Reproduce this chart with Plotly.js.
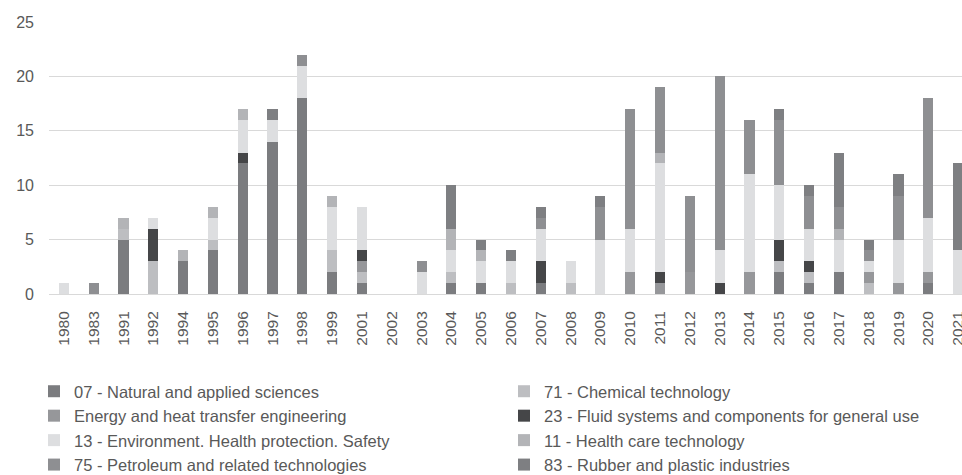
<!DOCTYPE html>
<html><head><meta charset="utf-8">
<script src="https://cdn.plot.ly/plotly-3.0.1.min.js"></script>
<style>html,body{margin:0;padding:0;overflow:hidden;background:#fff}#chart{width:974px;height:475px}</style>
</head><body><div id="chart"></div>
<script>
const years = ['1980','1983','1991','1992','1994','1995','1996','1997','1998','1999','2001','2002','2003','2004','2005','2006','2007','2008','2009','2010','2011','2012','2013','2014','2015','2016','2017','2018','2019','2020','2021'];
const seriesNames = ['07 - Natural and applied sciences','71 - Chemical technology','Energy and heat transfer engineering','23 - Fluid systems and components for general use','13 - Environment. Health protection. Safety','11 - Health care technology','75 - Petroleum and related technologies','83 - Rubber and plastic industries'];
const s07 =     [0,0,5,0,3,4,12,14,18,2,1,0,0,1,1,0,1,0,0,0,0,0,0,0,2,1,2,0,0,1,0];
const s71 =     [0,0,1,3,0,1,0,0,0,2,1,0,0,1,0,1,0,1,0,0,0,0,0,0,1,1,0,1,0,0,0];
const sEnergy = [0,0,0,0,0,0,0,0,0,0,1,0,0,0,0,0,0,0,0,2,1,2,0,2,0,0,0,1,1,1,0];
const s23 =     [0,0,0,3,0,0,1,0,0,0,1,0,0,0,0,0,2,0,0,0,1,0,1,0,2,1,0,0,0,0,0];
const s13 =     [1,0,0,1,0,2,3,2,3,4,4,0,2,2,2,2,3,2,5,4,10,0,3,9,5,3,3,1,4,5,4];
const s11 =     [0,0,1,0,1,1,1,0,0,1,0,0,0,2,1,0,0,0,0,0,1,0,0,0,0,0,1,0,0,0,0];
const s75 =     [0,1,0,0,0,0,0,0,1,0,0,0,1,0,0,0,1,0,3,11,6,7,16,5,6,3,2,1,4,11,0];
const s83 =     [0,0,0,0,0,0,0,1,0,0,0,0,0,4,1,1,1,0,1,0,0,0,0,0,1,1,5,1,2,0,8];
const seriesValues = [s07,s71,sEnergy,s23,s13,s11,s75,s83];
const colors = ['#7b7c7f','#bdbec1','#96979a','#454648','#dddee0','#b3b4b7','#8e8f92','#7e7f82'];
const legendOf = ['legend','legend2','legend','legend2','legend','legend2','legend','legend2'];

const FONT = '"Liberation Sans", Arial, sans-serif';

const traces = seriesValues.map((v,i)=>({
  type:'bar', x:years, y:v, name:seriesNames[i],
  marker:{color:colors[i], line:{width:0}},
  legend:legendOf[i], legendgroup:'g'+i,
  hoverinfo:'x+y+name'
}));

const W = 974, H = 475;
const legendCommon = {
  orientation:'v', traceorder:'normal', xref:'container', yref:'container',
  xanchor:'left', yanchor:'top', bgcolor:'rgba(0,0,0,0)', borderwidth:0,
  font:{family:FONT, size:16.5, color:'#595959'}, tracegroupgap:3.5, itemwidth:30
};

const layout = {
  width:W, height:H,
  margin:{l:49, r:1, t:22, b:181, autoexpand:false},
  paper_bgcolor:'#ffffff', plot_bgcolor:'#ffffff',
  barmode:'stack', bargap:0.66,
  font:{family:FONT, color:'#595959'},
  xaxis:{type:'category', tickangle:-90, showgrid:false, showline:true, linecolor:'#d9d9d9', linewidth:1,
         ticks:'', tickfont:{family:FONT, size:15.5, color:'#595959'}, ticklabelstandoff:10, fixedrange:true, automargin:false},
  yaxis:{range:[0,25], dtick:5, showgrid:true, gridcolor:'#d9d9d9', gridwidth:1, zeroline:false, showline:false,
         ticks:'', tickfont:{family:FONT, size:16, color:'#595959'}, ticklabelstandoff:14, fixedrange:true, automargin:false},
  showlegend:true,
  legend:Object.assign({}, legendCommon, {x:34/W, y:1-374/H}),
  legend2:Object.assign({}, legendCommon, {x:504/W, y:1-374/H})
};

Plotly.newPlot('chart', traces, layout, {displayModeBar:false, staticPlot:true});
</script></body></html>
